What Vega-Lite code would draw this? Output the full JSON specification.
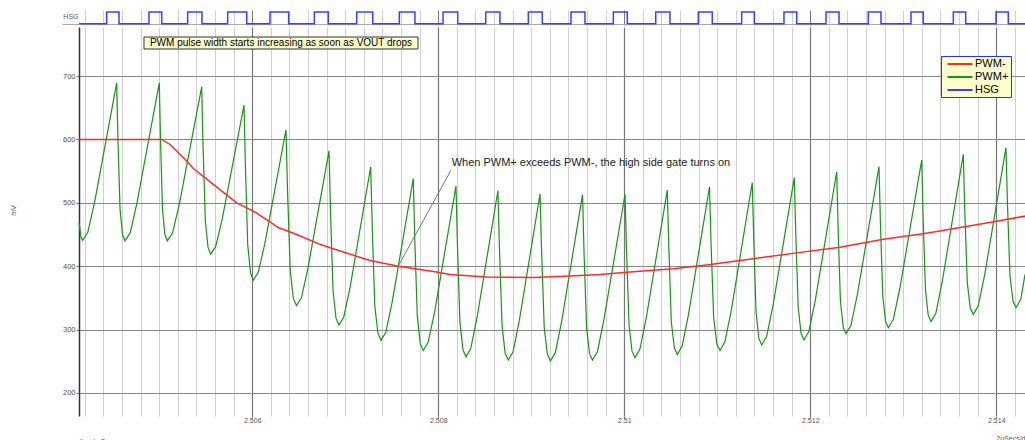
{
  "$schema": "https://vega.github.io/schema/vega-lite/v6.json",
  "padding": {"left": 9, "top": 9, "right": 0, "bottom": 0},
  "config": {"view": {"stroke": null}, "font": "Liberation Sans"},
  "spacing": 2,
  "bounds": "flush",
  "resolve": {"scale": {"x": "independent", "y": "independent", "color": "independent"}},
  "datasets": {
    "hsg": [
      {"t":2.504137,"v":0},{"t":2.504434,"v":1},{"t":2.504567,"v":0},{"t":2.504889,"v":1},{"t":2.505026,"v":0},{"t":2.505305,"v":1},{"t":2.505459,"v":0},{"t":2.505735,"v":1},{"t":2.505940,"v":0},{"t":2.506190,"v":1},{"t":2.506391,"v":0},{"t":2.506667,"v":1},{"t":2.506817,"v":0},{"t":2.507123,"v":1},{"t":2.507295,"v":0},{"t":2.507581,"v":1},{"t":2.507749,"v":0},{"t":2.508051,"v":1},{"t":2.508209,"v":0},{"t":2.508510,"v":1},{"t":2.508663,"v":0},{"t":2.508968,"v":1},{"t":2.509118,"v":0},{"t":2.509427,"v":1},{"t":2.509577,"v":0},{"t":2.509882,"v":1},{"t":2.510032,"v":0},{"t":2.510338,"v":1},{"t":2.510491,"v":0},{"t":2.510796,"v":1},{"t":2.510946,"v":0},{"t":2.511262,"v":1},{"t":2.511398,"v":0},{"t":2.511717,"v":1},{"t":2.511854,"v":0},{"t":2.512169,"v":1},{"t":2.512309,"v":0},{"t":2.512624,"v":1},{"t":2.512760,"v":0},{"t":2.513083,"v":1},{"t":2.513215,"v":0},{"t":2.513538,"v":1},{"t":2.513671,"v":0},{"t":2.513997,"v":1},{"t":2.514129,"v":0},{"t":2.514309,"v":0}
    ],
    "traces": [
      {"s":"PWM-","t":2.504137,"mV":600},{"s":"PWM-","t":2.505026,"mV":600},{"s":"PWM-","t":2.505115,"mV":592},{"s":"PWM-","t":2.505276,"mV":568.6},{"s":"PWM-","t":2.505366,"mV":554},{"s":"PWM-","t":2.505581,"mV":529},{"s":"PWM-","t":2.505832,"mV":500},{"s":"PWM-","t":2.506011,"mV":487},{"s":"PWM-","t":2.506190,"mV":470},{"s":"PWM-","t":2.506280,"mV":461},{"s":"PWM-","t":2.506477,"mV":450},{"s":"PWM-","t":2.506728,"mV":434.5},{"s":"PWM-","t":2.506836,"mV":429},{"s":"PWM-","t":2.507266,"mV":409},{"s":"PWM-","t":2.507570,"mV":400},{"s":"PWM-","t":2.507983,"mV":391},{"s":"PWM-","t":2.508126,"mV":387},{"s":"PWM-","t":2.508520,"mV":383},{"s":"PWM-","t":2.509022,"mV":382},{"s":"PWM-","t":2.509416,"mV":384.5},{"s":"PWM-","t":2.509739,"mV":387},{"s":"PWM-","t":2.509989,"mV":390},{"s":"PWM-","t":2.510527,"mV":396},{"s":"PWM-","t":2.510886,"mV":402},{"s":"PWM-","t":2.511424,"mV":412.5},{"s":"PWM-","t":2.511854,"mV":421},{"s":"PWM-","t":2.512319,"mV":430},{"s":"PWM-","t":2.512785,"mV":442.4},{"s":"PWM-","t":2.513215,"mV":451},{"s":"PWM-","t":2.513645,"mV":461.8},{"s":"PWM-","t":2.514004,"mV":471},{"s":"PWM-","t":2.514309,"mV":479},
      {"s":"PWM+","t":2.504137,"mV":469},{"s":"PWM+","t":2.504158,"mV":446},{"s":"PWM+","t":2.504176,"mV":441},{"s":"PWM+","t":2.504231,"mV":453.4},{"s":"PWM+","t":2.504304,"mV":500.5},
      {"s":"PWM+","t":2.504542,"mV":689},{"s":"PWM+","t":2.504555,"mV":601.9},{"s":"PWM+","t":2.504578,"mV":489.8},{"s":"PWM+","t":2.504604,"mV":450},{"s":"PWM+","t":2.504631,"mV":440},{"s":"PWM+","t":2.504687,"mV":452.5},{"s":"PWM+","t":2.504760,"mV":499.8},
      {"s":"PWM+","t":2.505000,"mV":689},{"s":"PWM+","t":2.505013,"mV":601.9},{"s":"PWM+","t":2.505034,"mV":489.8},{"s":"PWM+","t":2.505060,"mV":450},{"s":"PWM+","t":2.505086,"mV":440},{"s":"PWM+","t":2.505142,"mV":452.2},{"s":"PWM+","t":2.505216,"mV":498.3},
      {"s":"PWM+","t":2.505456,"mV":683},{"s":"PWM+","t":2.505470,"mV":590.6},{"s":"PWM+","t":2.505495,"mV":471.8},{"s":"PWM+","t":2.505524,"mV":429.6},{"s":"PWM+","t":2.505553,"mV":419},{"s":"PWM+","t":2.505606,"mV":430.8},{"s":"PWM+","t":2.505678,"mV":475.4},
      {"s":"PWM+","t":2.505911,"mV":654},{"s":"PWM+","t":2.505926,"mV":557.4},{"s":"PWM+","t":2.505951,"mV":433.2},{"s":"PWM+","t":2.505981,"mV":389},{"s":"PWM+","t":2.506011,"mV":378},{"s":"PWM+","t":2.506063,"mV":389.9},{"s":"PWM+","t":2.506134,"mV":434.9},
      {"s":"PWM+","t":2.506362,"mV":615},{"s":"PWM+","t":2.506379,"mV":518},{"s":"PWM+","t":2.506408,"mV":393.4},{"s":"PWM+","t":2.506441,"mV":349.1},{"s":"PWM+","t":2.506475,"mV":338},{"s":"PWM+","t":2.506528,"mV":350.2},{"s":"PWM+","t":2.506598,"mV":396.6},
      {"s":"PWM+","t":2.506825,"mV":582},{"s":"PWM+","t":2.506841,"mV":485.8},{"s":"PWM+","t":2.506868,"mV":362},{"s":"PWM+","t":2.506900,"mV":318},{"s":"PWM+","t":2.506932,"mV":307},{"s":"PWM+","t":2.506983,"mV":319.5},{"s":"PWM+","t":2.507052,"mV":366.9},
      {"s":"PWM+","t":2.507273,"mV":556.5},{"s":"PWM+","t":2.507290,"mV":460.8},{"s":"PWM+","t":2.507317,"mV":337.7},{"s":"PWM+","t":2.507351,"mV":293.9},{"s":"PWM+","t":2.507384,"mV":283},{"s":"PWM+","t":2.507436,"mV":295.8},{"s":"PWM+","t":2.507505,"mV":344.2},
      {"s":"PWM+","t":2.507731,"mV":538},{"s":"PWM+","t":2.507747,"mV":443.2},{"s":"PWM+","t":2.507774,"mV":321.2},{"s":"PWM+","t":2.507806,"mV":277.8},{"s":"PWM+","t":2.507839,"mV":267},{"s":"PWM+","t":2.507891,"mV":280},{"s":"PWM+","t":2.507962,"mV":329.3},
      {"s":"PWM+","t":2.508190,"mV":526.5},{"s":"PWM+","t":2.508206,"mV":432.2},{"s":"PWM+","t":2.508233,"mV":310.9},{"s":"PWM+","t":2.508266,"mV":267.8},{"s":"PWM+","t":2.508298,"mV":257},{"s":"PWM+","t":2.508349,"mV":270.1},{"s":"PWM+","t":2.508418,"mV":319.9},
      {"s":"PWM+","t":2.508641,"mV":519},{"s":"PWM+","t":2.508658,"mV":425.6},{"s":"PWM+","t":2.508686,"mV":305.4},{"s":"PWM+","t":2.508719,"mV":262.7},{"s":"PWM+","t":2.508753,"mV":252},{"s":"PWM+","t":2.508804,"mV":265.1},{"s":"PWM+","t":2.508872,"mV":314.9},
      {"s":"PWM+","t":2.509094,"mV":514},{"s":"PWM+","t":2.509111,"mV":421.8},{"s":"PWM+","t":2.509139,"mV":303.2},{"s":"PWM+","t":2.509173,"mV":261},{"s":"PWM+","t":2.509206,"mV":250.5},{"s":"PWM+","t":2.509258,"mV":263.6},{"s":"PWM+","t":2.509327,"mV":313.5},
      {"s":"PWM+","t":2.509551,"mV":513},{"s":"PWM+","t":2.509567,"mV":421.7},{"s":"PWM+","t":2.509594,"mV":304.2},{"s":"PWM+","t":2.509626,"mV":262.4},{"s":"PWM+","t":2.509658,"mV":252},{"s":"PWM+","t":2.509711,"mV":265.1},{"s":"PWM+","t":2.509780,"mV":314.8},
      {"s":"PWM+","t":2.510008,"mV":513.5},{"s":"PWM+","t":2.510024,"mV":423.3},{"s":"PWM+","t":2.510051,"mV":307.3},{"s":"PWM+","t":2.510083,"mV":266},{"s":"PWM+","t":2.510115,"mV":255.7},{"s":"PWM+","t":2.510167,"mV":268.9},{"s":"PWM+","t":2.510237,"mV":319.1},
      {"s":"PWM+","t":2.510462,"mV":520},{"s":"PWM+","t":2.510479,"mV":429.4},{"s":"PWM+","t":2.510505,"mV":312.8},{"s":"PWM+","t":2.510538,"mV":271.4},{"s":"PWM+","t":2.510570,"mV":261},{"s":"PWM+","t":2.510622,"mV":274.2},{"s":"PWM+","t":2.510691,"mV":324.4},
      {"s":"PWM+","t":2.510916,"mV":525},{"s":"PWM+","t":2.510933,"mV":434.7},{"s":"PWM+","t":2.510961,"mV":318.6},{"s":"PWM+","t":2.510995,"mV":277.3},{"s":"PWM+","t":2.511029,"mV":267},{"s":"PWM+","t":2.511081,"mV":280.3},{"s":"PWM+","t":2.511151,"mV":330.6},
      {"s":"PWM+","t":2.511376,"mV":532},{"s":"PWM+","t":2.511392,"mV":442.3},{"s":"PWM+","t":2.511417,"mV":327},{"s":"PWM+","t":2.511447,"mV":286},{"s":"PWM+","t":2.511477,"mV":275.7},{"s":"PWM+","t":2.511530,"mV":288.9},{"s":"PWM+","t":2.511600,"mV":339},
      {"s":"PWM+","t":2.511828,"mV":539.6},{"s":"PWM+","t":2.511844,"mV":450},{"s":"PWM+","t":2.511870,"mV":334.8},{"s":"PWM+","t":2.511901,"mV":293.8},{"s":"PWM+","t":2.511932,"mV":283.6},{"s":"PWM+","t":2.511985,"mV":296.9},{"s":"PWM+","t":2.512055,"mV":347.3},
      {"s":"PWM+","t":2.512284,"mV":549},{"s":"PWM+","t":2.512299,"mV":459.6},{"s":"PWM+","t":2.512324,"mV":344.7},{"s":"PWM+","t":2.512354,"mV":303.8},{"s":"PWM+","t":2.512384,"mV":293.6},{"s":"PWM+","t":2.512437,"mV":306.8},{"s":"PWM+","t":2.512508,"mV":356.8},
      {"s":"PWM+","t":2.512739,"mV":557},{"s":"PWM+","t":2.512754,"mV":468.1},{"s":"PWM+","t":2.512779,"mV":353.8},{"s":"PWM+","t":2.512809,"mV":313.2},{"s":"PWM+","t":2.512839,"mV":303},{"s":"PWM+","t":2.512893,"mV":316.2},{"s":"PWM+","t":2.512965,"mV":366.5},
      {"s":"PWM+","t":2.513198,"mV":567.5},{"s":"PWM+","t":2.513213,"mV":478.3},{"s":"PWM+","t":2.513238,"mV":363.5},{"s":"PWM+","t":2.513268,"mV":322.7},{"s":"PWM+","t":2.513298,"mV":312.5},{"s":"PWM+","t":2.513350,"mV":325.7},{"s":"PWM+","t":2.513419,"mV":375.9},
      {"s":"PWM+","t":2.513645,"mV":576.5},{"s":"PWM+","t":2.513661,"mV":488.1},{"s":"PWM+","t":2.513688,"mV":374.5},{"s":"PWM+","t":2.513720,"mV":334.1},{"s":"PWM+","t":2.513753,"mV":324},{"s":"PWM+","t":2.513805,"mV":337.2},{"s":"PWM+","t":2.513876,"mV":387.1},
      {"s":"PWM+","t":2.514104,"mV":587},{"s":"PWM+","t":2.514120,"mV":498.6},{"s":"PWM+","t":2.514147,"mV":385},{"s":"PWM+","t":2.514180,"mV":344.6},{"s":"PWM+","t":2.514212,"mV":334.5},{"s":"PWM+","t":2.514263,"mV":347.7},{"s":"PWM+","t":2.514309,"mV":387}
    ]
  },
  "vconcat": [
    {
      "width": 946,
      "height": 15,
      "layer": [
        {
          "data": {"name": "hsg"},
          "mark": {"type": "line", "interpolate": "step-after", "color": "#3344ff", "strokeWidth": 1.5},
          "encoding": {
            "x": {
              "field": "t", "type": "quantitative",
              "scale": {"domain": [2.5041366, 2.5143086], "nice": false, "zero": false},
              "axis": {
                "orient": "bottom",
                "values": [2.506, 2.508, 2.51, 2.512, 2.514],
                "grid": true, "gridColor": "#777777",
                "ticks": false, "labels": false, "domain": false, "title": null
              }
            },
            "y": {
              "field": "v", "type": "quantitative",
              "scale": {"domain": [-0.111, 1.171], "nice": false, "zero": false},
              "axis": {
                "values": [0], "grid": true, "gridColor": "#aaaaaa", "tickSize": 17, "tickColor": "#aaaaaa",
                "labels": false, "domain": false,
                "title": "HSG", "titleAngle": 0, "titleX": -1, "titleY": 6, "titleAlign": "right", "titleBaseline": "middle",
                "titleFontSize": 7, "titleFontWeight": "normal", "titleColor": "#555566"
              }
            }
          }
        },
        {
          "data": {"values": [{}]},
          "mark": {"type": "point", "opacity": 0},
          "encoding": {
            "x": {
              "datum": 2.51, "type": "quantitative",
              "axis": {
                "orient": "top",
                "values": [2.5042,2.5044,2.5046,2.5048,2.505,2.5052,2.5054,2.5056,2.5058,2.5062,2.5064,2.5066,2.5068,2.507,2.5072,2.5074,2.5076,2.5078,2.5082,2.5084,2.5086,2.5088,2.509,2.5092,2.5094,2.5096,2.5098,2.5102,2.5104,2.5106,2.5108,2.511,2.5112,2.5114,2.5116,2.5118,2.5122,2.5124,2.5126,2.5128,2.513,2.5132,2.5134,2.5136,2.5138,2.5142],
                "grid": true, "gridColor": "#d0d0d0",
                "ticks": false, "labels": false, "domain": false, "title": null
              }
            }
          }
        }
      ]
    },
    {
      "width": 946,
      "height": 389,
      "layer": [
        {
          "data": {"name": "traces"},
          "transform": [{"filter": "datum.s == 'PWM+'"}],
          "mark": {"type": "line", "strokeWidth": 1.2},
          "encoding": {
            "x": {
              "field": "t", "type": "quantitative",
              "scale": {"domain": [2.5041366, 2.5143086], "nice": false, "zero": false},
              "axis": {
                "orient": "bottom",
                "values": [2.506, 2.508, 2.51, 2.512, 2.514],
                "format": ".3~f",
                "grid": true, "gridColor": "#777777", "gridWidth": 1.2,
                "tickSize": 2, "tickColor": "#777777",
                "domain": false,
                "labelFontSize": 7, "labelColor": "#555555", "labelPadding": -2, "labelFlush": false, "labelOverlap": false,
                "title": "time/mSecs", "titleAnchor": "start", "titleAlign": "left", "titleFontSize": 7,
                "titleFontWeight": "normal", "titleColor": "#555555", "titlePadding": 14
              }
            },
            "y": {
              "field": "mV", "type": "quantitative",
              "scale": {"domain": [163.7, 777.3], "nice": false, "zero": false},
              "axis": {
                "values": [200,250,300,350,400,450,500,550,600,650,700,750],
                "grid": true,
                "gridColor": {"condition": {"test": "datum.value % 100 == 0", "value": "#888888"}, "value": "#d0d0d0"},
                "gridWidth": {"condition": {"test": "datum.value % 100 == 0", "value": 1.2}, "value": 1},
                "tickSize": 3,
                "tickColor": {"condition": {"test": "datum.value % 100 == 0", "value": "#777777"}, "value": "rgba(0,0,0,0)"},
                "domainColor": "#333333", "domainWidth": 1.5,
                "labelExpr": "datum.value % 100 == 0 ? datum.label : ''",
                "labelFontSize": 7.5, "labelColor": "#555555", "labelPadding": 1,
                "title": "mV", "titleFontSize": 7, "titleFontWeight": "normal", "titleColor": "#555555", "titlePadding": 46, "titleY": 183
              }
            },
            "color": {
              "field": "s", "type": "nominal",
              "scale": {"domain": ["PWM-", "PWM+", "HSG"], "range": ["#ff2a2a", "#1a941a", "#3344ff"]},
              "legend": {
                "orient": "none", "legendX": 862, "legendY": 29, "title": null,
                "symbolType": "M-2.5,0H2.5", "symbolSize": 100, "symbolStrokeWidth": 2, "symbolOffset": 11,
                "labelFontSize": 11, "labelColor": "#000000", "labelOffset": 9,
                "labelExpr": "datum.label + ' '",
                "fillColor": "#ffffcc", "strokeColor": "#2233ff", "padding": 2, "rowPadding": 2
              }
            }
          }
        },
        {
          "data": {"name": "traces"},
          "transform": [{"filter": "datum.s == 'PWM-'"}],
          "mark": {"type": "line", "strokeWidth": 1.5},
          "encoding": {
            "x": {
              "field": "t", "type": "quantitative",
              "axis": {
                "orient": "top",
                "values": [2.5042,2.5044,2.5046,2.5048,2.505,2.5052,2.5054,2.5056,2.5058,2.5062,2.5064,2.5066,2.5068,2.507,2.5072,2.5074,2.5076,2.5078,2.5082,2.5084,2.5086,2.5088,2.509,2.5092,2.5094,2.5096,2.5098,2.5102,2.5104,2.5106,2.5108,2.511,2.5112,2.5114,2.5116,2.5118,2.5122,2.5124,2.5126,2.5128,2.513,2.5132,2.5134,2.5136,2.5138,2.5142],
                "grid": true, "gridColor": "#d0d0d0",
                "ticks": false, "labels": false, "domain": false, "title": null
              }
            },
            "y": {"field": "mV", "type": "quantitative"},
            "color": {"field": "s", "type": "nominal"}
          }
        },
        {
          "data": {"values": [{}]},
          "mark": {"type": "rect", "fill": "#ffffcc", "stroke": "#333333", "strokeWidth": 1},
          "encoding": {
            "x": {"datum": 2.5048355, "type": "quantitative", "axis": null},
            "x2": {"datum": 2.5077817},
            "y": {"datum": 742.6, "type": "quantitative"},
            "y2": {"datum": 761.5}
          }
        },
        {
          "data": {"values": [{}]},
          "mark": {"type": "text", "text": "PWM pulse width starts increasing as soon as VOUT drops", "fontSize": 10, "color": "#000000", "align": "center", "baseline": "middle"},
          "encoding": {
            "x": {"datum": 2.5063086, "type": "quantitative", "axis": null},
            "y": {"datum": 752.1, "type": "quantitative"}
          }
        },
        {
          "data": {"values": [{}]},
          "mark": {"type": "rule", "color": "#777777", "strokeWidth": 1},
          "encoding": {
            "x": {"datum": 2.50757, "type": "quantitative", "axis": null},
            "y": {"datum": 400.3, "type": "quantitative"},
            "x2": {"datum": 2.508136},
            "y2": {"datum": 551.3}
          }
        },
        {
          "data": {"values": [{}]},
          "mark": {"type": "text", "text": "When PWM+ exceeds PWM-, the high side gate turns on", "fontSize": 11, "color": "#222222", "align": "left", "baseline": "middle"},
          "encoding": {
            "x": {"datum": 2.5081441, "type": "quantitative", "axis": null},
            "y": {"datum": 562.8, "type": "quantitative"}
          }
        },
        {
          "data": {"values": [{}]},
          "mark": {"type": "text", "text": "2uSecs/div", "fontSize": 7, "color": "#555555", "align": "left", "baseline": "middle"},
          "encoding": {
            "x": {"datum": 2.514, "type": "quantitative", "axis": null},
            "y": {"datum": 128, "type": "quantitative"}
          }
        }
      ]
    }
  ]
}
